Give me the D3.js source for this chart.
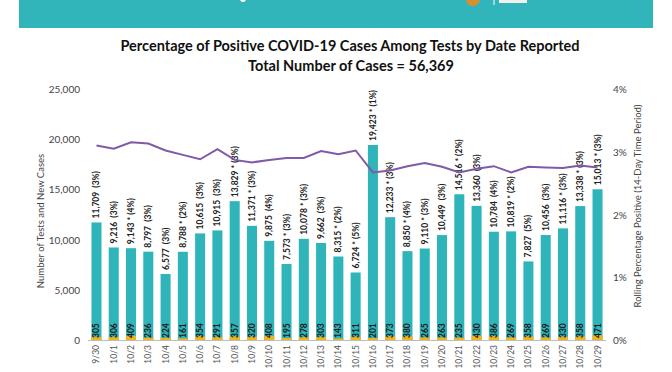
<!DOCTYPE html>
<html>
<head>
<meta charset="utf-8">
<script src="https://cdn.jsdelivr.net/npm/d3@7"></script>
<style>
  body { margin: 0; background: #fff; }
  #main { width: 672px; height: 372px; }
  text { font-family: Lato, "Open Sans", sans-serif; }
</style>
</head>
<body>
<div id="main"></div>
<script>
// Data
const dates = ["9/30","10/1","10/2","10/3","10/4","10/5","10/6","10/7","10/8","10/9",
  "10/10","10/11","10/12","10/13","10/14","10/15","10/16","10/17","10/18","10/19",
  "10/20","10/21","10/22","10/23","10/24","10/25","10/26","10/27","10/28","10/29"];
const tests = [11709, 9216, 9143, 8797, 6577, 8788, 10615, 10915, 13829, 11371,
  9875, 7573, 10078, 9662, 8315, 6724, 19423, 12233, 8850, 9110,
  10449, 14516, 13360, 10784, 10819, 7827, 10456, 11116, 13338, 15013];
const starred = [0,0,1,0,0,1,0,0,1,1, 0,1,1,0,1,1,1,1,1,1, 0,1,0,0,1,0,0,1,1,1];
const dayPct = [3,3,4,3,3,2,3,3,3,3, 4,3,3,3,2,5,1,3,4,3, 3,2,3,4,2,5,3,3,3,3];
const newCases = [305, 306, 409, 236, 224, 161, 354, 291, 357, 320,
  408, 195, 278, 303, 143, 311, 201, 373, 380, 265,
  263, 235, 430, 386, 269, 358, 269, 330, 358, 471];
const rolling = [3.10, 3.05, 3.15, 3.13, 3.02, 2.95, 2.88, 3.04, 2.87, 2.83,
  2.87, 2.90, 2.90, 3.01, 2.96, 3.02, 2.67, 2.70, 2.77, 2.82,
  2.76, 2.67, 2.73, 2.77, 2.67, 2.76, 2.75, 2.74, 2.78, 2.75];
const leftTicks = [0, 5000, 10000, 15000, 20000, 25000];
const rightTicks = [0, 1, 2, 3, 4];

function createChart() {
  d3.select("#main svg").remove();
  const width = 672, height = 372;
  const svg = d3.select("#main").append("svg")
    .attr("width", width)
    .attr("height", height);

  // header band
  svg.append("rect").attr("x", 19).attr("y", 0).attr("width", 634).attr("height", 28)
    .attr("fill", "#31b4ba");
  svg.append("circle").attr("cx", 473).attr("cy", -1).attr("r", 7).attr("fill", "#d8902a");
  svg.append("line").attr("x1", 494).attr("x2", 494).attr("y1", 0).attr("y2", 5)
    .attr("stroke", "#fff").attr("stroke-width", 1);
  svg.append("rect").attr("x", 499).attr("y", 0).attr("width", 28).attr("height", 3).attr("fill", "#f2f2ea");
  svg.append("circle").attr("cx", 243).attr("cy", -1).attr("r", 3).attr("fill", "#fff");

  // titles
  svg.append("text").attr("x", 350).attr("y", 51).attr("text-anchor", "middle")
    .attr("font-size", 14.5).attr("font-weight", "bold").attr("fill", "#111")
    .text("Percentage of Positive COVID-19 Cases Among Tests by Date Reported");
  svg.append("text").attr("x", 351).attr("y", 71).attr("text-anchor", "middle")
    .attr("font-size", 14.5).attr("font-weight", "bold").attr("fill", "#111")
    .text("Total Number of Cases = 56,369");

  const x = d3.scaleBand().domain(dates).range([88, 606]).paddingInner(0.42).paddingOuter(0.2);
  const y = d3.scaleLinear().domain([0, 25000]).range([340, 89]);
  const yR = d3.scaleLinear().domain([0, 4]).range([340, 89]);

  // bars: tests
  svg.append("g").selectAll("rect")
    .data(dates)
    .join("rect")
    .attr("x", d => x(d))
    .attr("width", x.bandwidth())
    .attr("y", (d, i) => y(tests[i]))
    .attr("height", (d, i) => y(0) - y(tests[i]))
    .attr("fill", "#2fb4b9");

  // bars: new cases
  svg.append("g").selectAll("rect")
    .data(dates)
    .join("rect")
    .attr("x", d => x(d))
    .attr("width", x.bandwidth())
    .attr("y", (d, i) => y(newCases[i]))
    .attr("height", (d, i) => y(0) - y(newCases[i]))
    .attr("fill", "#f0b31c");

  // x baseline
  svg.append("line").attr("x1", 88).attr("x2", 606).attr("y1", 340.5).attr("y2", 340.5)
    .attr("stroke", "#bdbdbd");

  const fmt = d3.format(",");

  // test labels above bars
  svg.append("g").selectAll("text")
    .data(dates)
    .join("text")
    .attr("transform", (d, i) => `translate(${x(d) + x.bandwidth() / 2 + 3},${y(tests[i]) - 4}) rotate(-90)`)
    .attr("font-size", 8.5).attr("font-weight", "bold").attr("fill", "#222")
    .style("white-space", "pre")
    .text((d, i) => `${fmt(tests[i])}${starred[i] ? " *" : " "} (${dayPct[i]}%)`);

  // case labels inside bars
  svg.append("g").selectAll("text")
    .data(dates)
    .join("text")
    .attr("transform", (d, i) => `translate(${x(d) + x.bandwidth() / 2 + 3},${338}) rotate(-90)`)
    .attr("font-size", 8.5).attr("font-weight", "bold").attr("fill", "#1a1a1a")
    .text((d, i) => newCases[i]);

  // rolling line
  const line = d3.line()
    .x((d, i) => x(dates[i]) + x.bandwidth() / 2)
    .y(d => yR(d));
  svg.append("path").datum(rolling)
    .attr("d", line)
    .attr("fill", "none")
    .attr("stroke", "#7f5aa8")
    .attr("stroke-width", 2);

  // x tick labels
  svg.append("g").selectAll("text")
    .data(dates)
    .join("text")
    .attr("transform", d => `translate(${x(d) + x.bandwidth() / 2 + 3},${345}) rotate(-90)`)
    .attr("text-anchor", "end")
    .attr("font-size", 8.5).attr("fill", "#555")
    .text(d => d);

  // left axis
  svg.append("g").selectAll("text")
    .data(leftTicks)
    .join("text")
    .attr("x", 80).attr("y", d => y(d) + 4)
    .attr("text-anchor", "end")
    .attr("font-size", 10).attr("fill", "#444")
    .text(d => fmt(d));
  svg.append("text")
    .attr("transform", "translate(44,221) rotate(-90)")
    .attr("text-anchor", "middle")
    .attr("font-size", 9.5).attr("fill", "#444")
    .text("Number of Tests and New Cases");

  // right axis
  svg.append("g").selectAll("text")
    .data(rightTicks)
    .join("text")
    .attr("x", 613).attr("y", d => yR(d) + 4)
    .attr("font-size", 10).attr("fill", "#444")
    .text(d => d + "%");
  svg.append("text")
    .attr("transform", "translate(641,206) rotate(-90)")
    .attr("text-anchor", "middle")
    .attr("font-size", 9.5).attr("fill", "#444")
    .text("Rolling Percentage Positive (14-Day Time Period)");
}

document.addEventListener("DOMContentLoaded", createChart);
</script>
</body>
</html>
